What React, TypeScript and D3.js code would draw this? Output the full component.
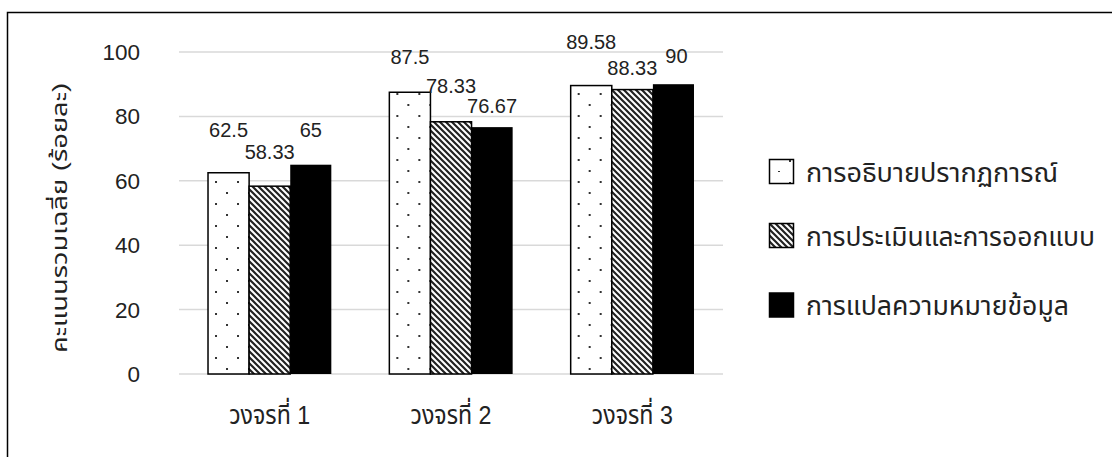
import React from "react";
import * as d3 from "d3";

const categories = ["วงจรที่ 1", "วงจรที่ 2", "วงจรที่ 3"];
const seriesNames = ["การอธิบายปรากฏการณ์", "การประเมินและการออกแบบ", "การแปลความหมายข้อมูล"];
const explainValues = [62.5, 87.5, 89.58];
const evaluateValues = [58.33, 78.33, 88.33];
const interpretValues = [65, 76.67, 90];
const yTicks = [0, 20, 40, 60, 80, 100];
const yTitle = "คะแนนรวมเฉลี่ย (ร้อยละ)";

// label offsets (layout only): [dx, dy] from bar top-centre, per series per category
const labelOffsets = [
  [[0, -36], [0, -28], [0, -36.5]],
  [[0, -27], [0, -29], [0, -14.6]],
  [[0, -27.7], [0, -14], [3, -21]],
];
const legendTextLengths = [252, 289, 263];

const W = 1112;
const H = 457;
const plotLeft = 179;
const plotRight = 723;
const plotTop = 52;
const plotBottom = 374;
const FONT = "'Liberation Sans', Arial, 'Noto Sans Thai', Garuda, Loma, sans-serif";

export default function App() {
  const series = [explainValues, evaluateValues, interpretValues];
  const y = d3.scaleLinear().domain([0, 100]).range([plotBottom, plotTop]);
  const x0 = d3.scaleBand<string>().domain(categories).range([plotLeft, plotRight]);
  const groupW = x0.bandwidth() * 0.68;
  const x1 = d3.scaleBand<number>().domain([0, 1, 2]).range([0, groupW]);
  const groupStart = (c: string) => (x0(c) as number) + (x0.bandwidth() - groupW) / 2;
  const fmt = (v: number) => String(v);
  const fillFor = (si: number, ci: number) =>
    si === 0 ? `url(#dots${ci})` : si === 1 ? "url(#hatch)" : "#000";

  const legendY = [171.5, 235.5, 305];
  const sq = 24;

  return (
    <svg width={W} height={H} style={{ position: "absolute", left: 0, top: 0, background: "#fff" }} fontFamily={FONT}>
      <defs>
        {categories.map((c, ci) => (
          <pattern
            key={c}
            id={`dots${ci}`}
            width={22}
            height={22}
            patternUnits="userSpaceOnUse"
            x={groupStart(c) + 7}
            y={0}
          >
            <rect width={22} height={22} fill="#fff" />
            <rect x={0} y={5} width={2} height={2} fill="#333" />
            <rect x={11} y={16} width={2} height={2} fill="#333" />
          </pattern>
        ))}
        <pattern id="dotsL" width={22} height={22} patternUnits="userSpaceOnUse" x={778} y={150}>
          <rect width={22} height={22} fill="#fff" />
          <rect x={0} y={21} width={2} height={2} fill="#333" />
          <rect x={11} y={10} width={2} height={2} fill="#333" />
        </pattern>
        <pattern id="hatch" width={6} height={6} patternUnits="userSpaceOnUse">
          <rect width={6} height={6} fill="#fff" />
          <path d="M-1,-1 L7,7 M-7,-1 L1,7 M5,-1 L13,7" stroke="#222" strokeWidth={2.2} />
        </pattern>
      </defs>
      <rect x={0} y={0} width={W} height={H} fill="#fff" />
      {/* chart frame */}
      <path d={`M7.5,${H + 5} L7.5,12.5 L${W + 5},12.5`} fill="none" stroke="#000" strokeWidth={1.5} />

      {/* gridlines */}
      {yTicks.map((t) => (
        <line key={t} x1={plotLeft} x2={plotRight} y1={y(t)} y2={y(t)} stroke="#d9d9d9" strokeWidth={1.5} />
      ))}
      {/* y tick labels */}
      {yTicks.map((t) => (
        <text key={"l" + t} x={140} y={y(t) + 8} textAnchor="end" fontSize={22.5} fill="#222">
          {t}
        </text>
      ))}
      {/* y title */}
      <text
        transform={`translate(67,${(plotTop + plotBottom) / 2 + 5}) rotate(-90)`}
        textAnchor="middle"
        fontSize={21}
        textLength={270}
        lengthAdjust="spacingAndGlyphs"
        fill="#222"
      >
        {yTitle}
      </text>

      {/* bars */}
      {series.map((vals, si) =>
        categories.map((c, ci) => {
          const bx = groupStart(c) + (x1(si) as number);
          const by = y(vals[ci]);
          return (
            <rect
              key={si + "-" + ci}
              x={bx}
              y={by}
              width={x1.bandwidth()}
              height={plotBottom - by}
              fill={fillFor(si, ci)}
              stroke="#000"
              strokeWidth={si === 2 ? 0 : 1.5}
            />
          );
        })
      )}

      {/* data labels */}
      {series.map((vals, si) =>
        categories.map((c, ci) => {
          const cx = groupStart(c) + (x1(si) as number) + x1.bandwidth() / 2;
          const [dx, dy] = labelOffsets[si][ci];
          return (
            <text key={"d" + si + ci} x={cx + dx} y={y(vals[ci]) + dy} textAnchor="middle" fontSize={20} fill="#222">
              {fmt(vals[ci])}
            </text>
          );
        })
      )}

      {/* category labels */}
      {categories.map((c) => (
        <text
          key={c}
          x={(x0(c) as number) + x0.bandwidth() / 2}
          y={424}
          textAnchor="middle"
          fontSize={26}
          textLength={81}
          lengthAdjust="spacingAndGlyphs"
          fill="#222"
        >
          {c}
        </text>
      ))}

      {/* legend */}
      {seriesNames.map((n, i) => (
        <g key={n}>
          <rect
            x={769.5}
            y={legendY[i] - sq / 2}
            width={sq}
            height={sq}
            fill={i === 0 ? "url(#dotsL)" : i === 1 ? "url(#hatch)" : "#000"}
            stroke="#000"
            strokeWidth={1.5}
          />
          <text
            x={806}
            y={legendY[i] + 10}
            fontSize={27.5}
            textLength={legendTextLengths[i]}
            lengthAdjust="spacingAndGlyphs"
            fill="#222"
          >
            {n}
          </text>
        </g>
      ))}
    </svg>
  );
}
